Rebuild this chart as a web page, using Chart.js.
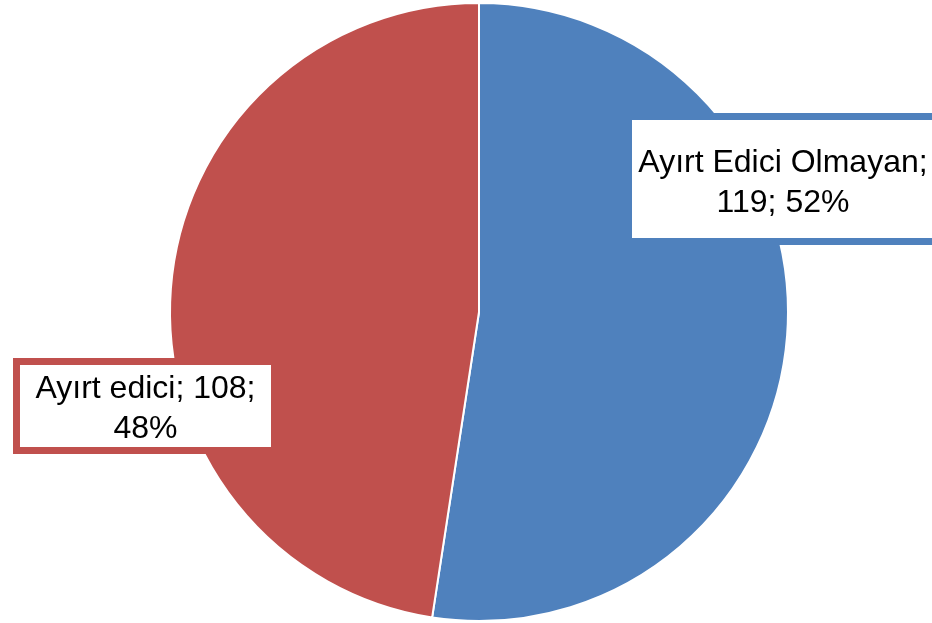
<!DOCTYPE html>
<html>
<head>
<meta charset="utf-8">
<script src="https://cdn.jsdelivr.net/npm/chart.js@4.4.0/dist/chart.umd.min.js"></script>
<style>
  html, body { margin: 0; padding: 0; background: #ffffff; }
  #wrap { width: 932px; height: 623px; position: relative; }
</style>
</head>
<body>
<div id="wrap"><canvas id="c" width="932" height="623"></canvas></div>
<script>
const categories = ["Ayırt Edici Olmayan", "Ayırt edici"];
const values = [119, 108];
const percents = ["52%", "48%"];
const colors = ["#4F81BD", "#C0504D"];

// label box placement relative to pie centre, in units of radius, plus box size
const labelLayout = [
  { fx: 0.984, fy: -0.429, w: 316, h: 132, lines: [categories[0] + ";", values[0] + "; " + percents[0]] },
  { fx: -1.079, fy: 0.303, w: 265, h: 96, lines: [categories[1] + "; " + values[1] + ";", percents[1]] }
];

const labelPlugin = {
  id: 'boxLabels',
  afterDatasetsDraw(chart) {
    const ctx = chart.ctx;
    const meta = chart.getDatasetMeta(0);
    meta.data.forEach((arc, i) => {
      const L = labelLayout[i];
      const r = arc.outerRadius;
      const cx = arc.x + L.fx * r;
      const cy = arc.y + L.fy * r;
      const bw = 7;
      const x0 = Math.round(cx - L.w / 2);
      const y0b = Math.round(cy - L.h / 2);
      ctx.save();
      ctx.fillStyle = colors[i];
      ctx.fillRect(x0, y0b, L.w, L.h);
      ctx.fillStyle = '#ffffff';
      ctx.fillRect(x0 + bw, y0b + bw, L.w - 2 * bw, L.h - 2 * bw);
      ctx.fillStyle = '#000000';
      ctx.font = '32px "Liberation Sans", Arial, sans-serif';
      ctx.textAlign = 'center';
      ctx.textBaseline = 'alphabetic';
      const lh = 40;
      const n = L.lines.length;
      const blockH = (n - 1) * lh + 23;
      const by = cy - blockH / 2 + 23 + 1;
      L.lines.forEach((t, k) => ctx.fillText(t, x0 + L.w / 2, by + k * lh));
      ctx.restore();
    });
  }
};

new Chart(document.getElementById('c'), {
  type: 'pie',
  data: {
    labels: categories,
    datasets: [{
      data: values,
      backgroundColor: colors,
      borderColor: '#ffffff',
      borderWidth: 2
    }]
  },
  options: {
    responsive: false,
    animation: false,
    layout: { padding: { left: 26, right: 0, top: 2, bottom: 1 } },
    plugins: {
      legend: { display: false },
      tooltip: { enabled: false }
    }
  },
  plugins: [labelPlugin]
});
</script>
</body>
</html>
